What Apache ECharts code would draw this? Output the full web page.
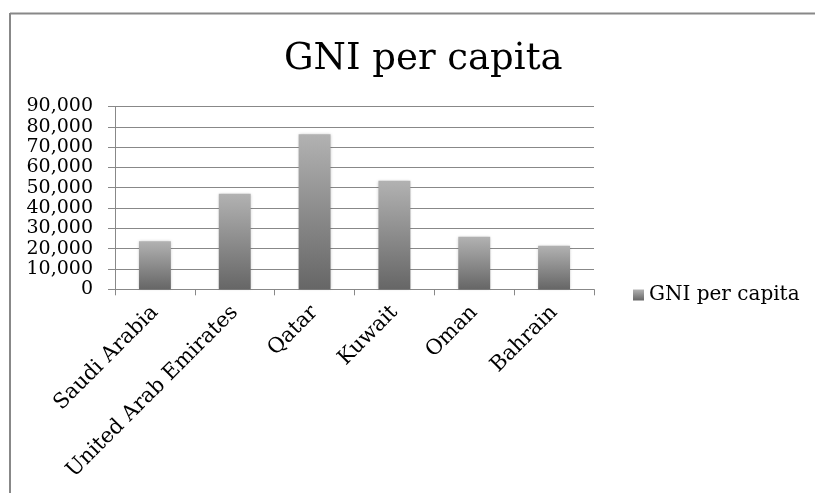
<!DOCTYPE html>
<html>
<head>
<meta charset="utf-8">
<script src="https://cdn.jsdelivr.net/npm/echarts@6/dist/echarts.min.js"></script>
<style>
html,body{margin:0;padding:0;background:#fff;}
#chart{width:815px;height:493px;}
</style>
</head>
<body>
<div id="chart"></div>
<script>
const categories = ["Saudi Arabia", "United Arab Emirates", "Qatar", "Kuwait", "Oman", "Bahrain"];
const gniValues = [23700, 47000, 76300, 53500, 25900, 21500];
const seriesName = "GNI per capita";
const titleText = "GNI per capita";

const FONT = "DejaVu Serif";
const chart = echarts.init(document.getElementById('chart'));
chart.setOption({
  backgroundColor: '#fff',
  animation: false,
  title: {
    text: titleText,
    left: 279,
    top: 36,
    textStyle: {fontFamily: FONT, fontSize: 37, fontWeight: 'normal', color: '#000'}
  },
  legend: {
    data: [seriesName],
    orient: 'vertical',
    left: 628,
    top: 280,
    itemWidth: 11,
    itemHeight: 11,
    itemGap: 5,
    icon: 'rect',
    textStyle: {fontFamily: FONT, fontSize: 20, color: '#000'}
  },
  grid: {left: 115, right: 221, top: 106.5, bottom: 203.7, containLabel: false},
  xAxis: {
    type: 'category',
    data: categories,
    axisLine: {lineStyle: {color: '#888', width: 1}},
    axisTick: {show: true, length: 6, lineStyle: {color: '#888'}},
    axisLabel: {rotate: 45, fontFamily: FONT, fontSize: 21, color: '#000', margin: 20, interval: 0}
  },
  yAxis: {
    type: 'value',
    min: 0,
    max: 90000,
    interval: 10000,
    axisLine: {show: true, lineStyle: {color: '#888', width: 1}},
    axisTick: {show: true, length: 7, lineStyle: {color: '#888'}},
    splitLine: {lineStyle: {color: '#888', width: 1}},
    axisLabel: {
      fontFamily: FONT, fontSize: 19, color: '#000', margin: 22,
      formatter: v => v.toLocaleString('en-US')
    }
  },
  series: [{
    name: seriesName,
    type: 'bar',
    data: gniValues,
    barCategoryGap: '60%',
    itemStyle: {
      color: new echarts.graphic.LinearGradient(0, 0, 0, 1, [
        {offset: 0, color: '#b2b2b2'},
        {offset: 1, color: '#666666'}
      ]),
      shadowColor: 'rgba(0,0,0,0.25)',
      shadowBlur: 3
    }
  }],
  graphic: [
    {type: 'line', shape: {x1: 10, y1: 13.5, x2: 815, y2: 13.5}, style: {stroke: '#888', lineWidth: 2}},
    {type: 'line', shape: {x1: 10, y1: 13, x2: 10, y2: 493}, style: {stroke: '#888', lineWidth: 2}}
  ]
});
</script>
</body>
</html>
